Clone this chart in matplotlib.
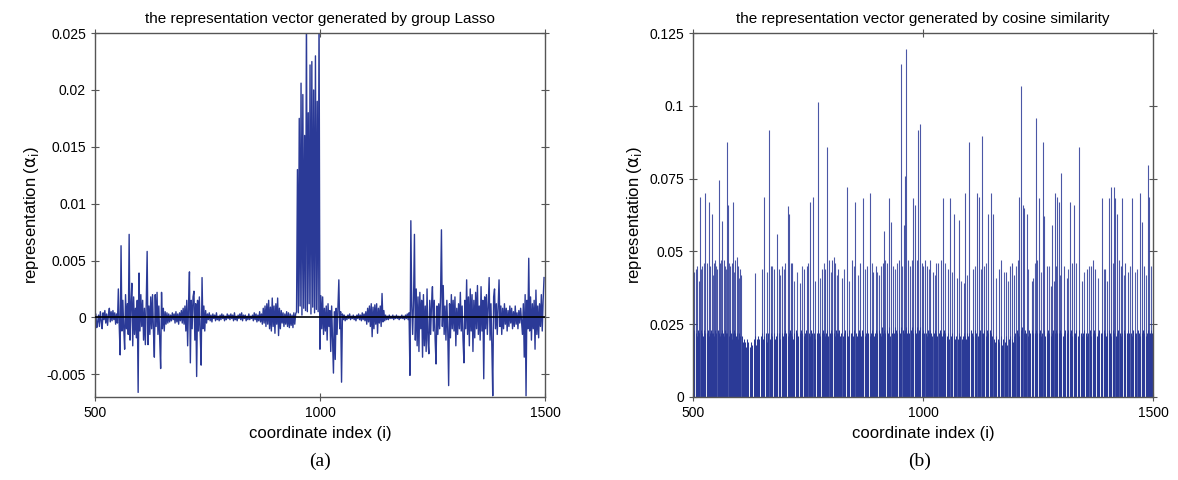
import numpy as np
import matplotlib
matplotlib.use('Agg')
import matplotlib.pyplot as plt

plt.rcParams['font.family'] = ['Liberation Sans', 'DejaVu Sans']

# ---- panel (a): group Lasso representation, sampled every 2 coordinates (units of 1e-4)
lasso_start, lasso_step = 500, 2
lasso_vals = [
    -6, 3, -9, -4, 2, -8, 5, -3, -10, 4, -2, 6, -5, 3, -7, 2, 8, -4, 5, -3, 6, -2, 4, -6, 3,
    -5, 25, -8, -33, 63, -12, 15, -10, -28, 20, -10, 12, -15, 73, -20, 10, 30, -25, 18, -15, 8, -18, 15, -66, 39,
    -12, 20, -8, 15, -20, 8, -24, 12, 58, -24, 10, -15, 18, -10, 20, -12, -35, 20, -8, 22, -15, 10, -20, -45, 22,
    -10, 8, -12, 5, -6, 4, -5, 3, -4, 2, -3, 4, -2, 3, -5, 5, -4, 3, -6, 4, -3, 6, -5, 8, -6,
    10, -12, 15, -25, 12, 40, -40, 15, -10, 18, 23, -20, 12, -52, 15, -12, 18, -15, -42, 35, -10, 10, -12, 6, -5,
    3, -2, 4, -3, 2, -4, 3, -1, 2, -3, 4, -2, 1, -3, 2, -2, 3, -1, 2, -3, 1, -2, 3, -1, 2,
    -2, 3, -1, 2, -3, 4, -2, 1, -3, 2, -1, 3, -2, 4, -3, 2, -1, 2, -3, 1, -2, 3, -2, 1, -1,
    2, -3, 4, -2, 3, -4, 2, -3, 5, -4, 3, -6, 8, -5, 10, -8, 12, -6, 15, -10, 9, -12, 17, -8, 10,
    -14, 12, -6, 17, -16, 8, -10, 6, -5, 4, -8, 3, -6, 5, -8, 4, -9, 3, -7, 2, -9, 4, -6, 3, 5,
    130, 4, 175, 10, 206, 2, 196, 8, 160, 6, 270, 5, 180, 12, 222, 3, 225, 9, 200, 4, 230, 7, 190, 5, 270,
    -28, 19, -10, 18, -15, 8, -12, 10, -20, 12, -8, 6, -30, 10, -20, -49, 5, -37, 8, -15, 10, 33, -10, 5, -57,
    3, -2, 2, -3, 1, -2, 2, -1, 3, -2, 1, -1, 2, -2, 1, -3, 2, -1, 3, -2, 2, -3, 4, -2, 3,
    -3, 5, -6, 8, -4, 10, -8, 12, -17, 9, -10, 11, -6, 12, -14, 8, -5, 10, -8, 21, -4, 6, -3, 2, -2,
    1, -2, 2, -1, 1, -1, 2, -2, 1, -1, 2, -1, 1, -2, 1, -1, 2, -1, 1, -2, 2, -1, 3, -2, 4,
    -51, 85, 10, -15, 15, 73, -20, 25, -25, 18, -30, 22, -10, 15, -35, 20, -25, 10, -30, 25, -20, -32, 15, -15, 12,
    27, -12, 15, -20, -41, 10, -15, 12, -10, 18, 77, -8, 28, -15, 10, -20, 15, -12, -60, 12, -18, 20, -10, 15, -12,
    18, -25, 8, -15, 12, -10, 22, -12, 10, -20, -40, 15, -10, 33, -15, 18, -25, 25, -12, 20, -30, 15, -18, 22, -10,
    28, -15, 10, -20, 27, -12, 15, -54, 18, -10, 20, -15, 10, 35, -20, 12, -25, -69, 18, 25, -10, 12, -15, 10, 33,
    -8, 10, -15, 8, -10, 12, -6, 8, -12, 6, -8, 10, -5, 8, -10, 5, -8, 10, -6, 4, -10, 6, -5, 8, -4,
    -15, 12, -35, 20, -69, 15, -10, 52, -12, 18, -20, 12, -10, 15, -28, 24, -15, 10, -18, 12, -8, 20, -12, 15, 35,
]

# ---- panel (b): cosine similarity, floor level every 2 coordinates (units of 1e-3)
cos_start, cos_step = 500, 2
cos_floor = [
    22, 23, 0, 22, 21, 23, 22, 22, 0, 23, 22, 21, 23, 22, 0, 22, 23, 21, 22, 0, 23, 22, 22, 21, 23,
    22, 0, 23, 22, 21, 22, 23, 0, 22, 21, 23, 22, 22, 0, 21, 23, 22, 20, 22, 0, 23, 22, 21, 22, 20,
    22, 21, 0, 21, 19, 20, 0, 19, 17, 20, 19, 0, 17, 19, 18, 0, 20, 21, 18, 0, 20, 21, 20, 0, 21,
    22, 20, 21, 0, 22, 19, 21, 22, 0, 20, 22, 21, 0, 22, 20, 21, 22, 0, 21, 22, 20, 0, 22, 21, 22,
    23, 22, 0, 21, 22, 23, 0, 22, 21, 20, 22, 0, 23, 22, 21, 0, 22, 23, 21, 22, 0, 21, 22, 23, 22,
    0, 22, 21, 23, 22, 0, 21, 22, 20, 0, 22, 23, 22, 21, 0, 22, 23, 22, 0, 21, 22, 23, 21, 0, 22,
    23, 22, 0, 22, 21, 23, 22, 0, 22, 23, 21, 22, 0, 21, 22, 23, 0, 22, 21, 22, 23, 0, 22, 22, 21,
    23, 0, 22, 21, 22, 23, 0, 22, 21, 23, 22, 0, 21, 22, 23, 22, 0, 21, 22, 23, 0, 22, 21, 22, 23,
    22, 0, 23, 22, 21, 24, 0, 22, 23, 22, 0, 23, 22, 24, 21, 0, 22, 23, 22, 0, 24, 23, 22, 0, 23,
    22, 24, 0, 23, 22, 23, 0, 24, 22, 23, 22, 0, 23, 24, 22, 0, 23, 22, 24, 0, 22, 23, 24, 0, 22,
    23, 22, 0, 22, 21, 23, 22, 0, 23, 22, 21, 0, 22, 23, 22, 21, 0, 22, 23, 22, 0, 21, 22, 23, 22,
    0, 21, 22, 20, 0, 21, 20, 22, 0, 21, 20, 21, 0, 20, 22, 21, 0, 20, 21, 22, 0, 21, 20, 22, 21,
    22, 0, 23, 22, 21, 0, 22, 23, 22, 0, 21, 22, 23, 0, 22, 22, 23, 0, 21, 22, 23, 22, 0, 23, 22,
    21, 0, 20, 19, 21, 0, 18, 20, 19, 0, 21, 18, 20, 0, 19, 21, 18, 0, 20, 19, 21, 0, 20, 19, 21,
    22, 0, 23, 22, 21, 0, 23, 22, 24, 0, 22, 23, 22, 0, 21, 23, 22, 0, 23, 22, 21, 0, 22, 23, 22,
    0, 22, 23, 21, 22, 0, 23, 22, 21, 0, 22, 23, 22, 0, 21, 22, 23, 0, 22, 21, 23, 22, 0, 22, 23,
    22, 0, 21, 22, 23, 0, 22, 21, 23, 0, 22, 23, 21, 0, 22, 22, 23, 0, 21, 22, 23, 0, 22, 21, 22,
    23, 0, 22, 21, 22, 0, 23, 22, 21, 0, 22, 23, 22, 0, 21, 22, 23, 0, 22, 21, 22, 0, 23, 22, 21,
    22, 0, 23, 22, 21, 0, 22, 23, 22, 0, 21, 22, 23, 0, 22, 21, 22, 0, 23, 22, 21, 0, 22, 23, 22,
    0, 22, 21, 23, 0, 22, 21, 22, 0, 23, 22, 21, 0, 22, 23, 22, 0, 21, 22, 23, 0, 22, 22, 23, 22,
]

# taller coordinates of panel (b)
spike_idx = [
    500, 503, 506, 509, 512, 515, 520, 527, 530, 534, 537, 541, 545, 548, 552, 556, 559, 563, 567, 570,
    574, 577, 581, 585, 588, 592, 595, 598, 602, 605, 635, 650, 654, 666, 669, 676, 682, 686, 694, 700,
    706, 708, 712, 715, 733, 742, 747, 751, 754, 760, 765, 771, 780, 788, 791, 796, 802, 806, 809, 815,
    823, 835, 845, 853, 863, 869, 878, 885, 892, 897, 904, 912, 915, 921, 927, 930, 935, 948, 952, 959,
    961, 964, 968, 971, 979, 983, 986, 990, 993, 997, 1001, 1004, 1009, 1015, 1021, 1028, 1033, 1038, 1044, 1055,
    1059, 1067, 1073, 1079, 1088, 1091, 1101, 1108, 1118, 1121, 1129, 1133, 1142, 1147, 1153, 1166, 1169, 1180, 1188, 1193,
    1198, 1206, 1209, 1213, 1217, 1220, 1225, 1236, 1239, 1246, 1247, 1252, 1261, 1263, 1269, 1278, 1280, 1284, 1287, 1290,
    1292, 1296, 1301, 1307, 1313, 1320, 1324, 1328, 1338, 1345, 1356, 1365, 1369, 1374, 1388, 1396, 1399, 1404, 1409, 1415,
    1417, 1421, 1425, 1430, 1433, 1439, 1445, 1454, 1471, 1475, 1480, 1488, 1491,
]
spike_val = [
    41, 43, 44, 45, 40, 68.7, 45, 70, 46, 67, 45, 63, 46, 47, 44, 74.7, 46, 60.5, 47, 45,
    87.6, 66, 45, 46, 67, 47, 48, 45, 44, 42, 42.7, 44, 68.7, 91.6, 45, 44, 56, 44, 45, 46,
    65.5, 63, 46, 46, 39, 44, 45, 46, 67, 68.7, 40, 101.5, 44, 44, 85.9, 47, 47, 48, 46, 44,
    41, 72, 47, 67, 46, 68.5, 45, 70, 43, 45, 42, 46, 57, 46, 68.5, 60, 45, 47, 114.4, 59,
    76, 119.5, 47, 45, 68.5, 66, 47, 91.6, 93.7, 46, 45, 47, 45, 47, 43, 46, 46, 47, 68.5, 44,
    68.5, 63, 41, 60.7, 39, 70, 87.6, 44, 70, 68.7, 89.5, 45, 63, 70, 63, 44, 47, 43, 45, 46,
    42, 47, 68.7, 107, 66, 65, 63, 40, 41, 96, 47, 68.5, 87.6, 62, 45, 38, 59, 40, 70, 45,
    68.7, 67, 77, 45, 41, 67, 46, 66, 85.9, 40, 44, 45, 47, 44, 68.5, 44, 40, 68.5, 72, 72,
    68.5, 63, 47, 45, 68.5, 46, 43, 68.5, 70, 60, 45, 79.6, 68.7,
]

# medium-height coordinates of panel (b), around 0.04-0.047
mid_idx = [
    517, 524, 543, 550, 561, 572, 579, 590, 600, 660, 672, 690, 697, 720, 725, 738, 775, 784, 799, 812,
    828, 840, 850, 858, 874, 889, 900, 908, 918, 940, 944, 955, 975, 1012, 1025, 1048, 1063, 1083, 1096, 1112,
    1125, 1137, 1159, 1175, 1185, 1202, 1229, 1243, 1256, 1273, 1298, 1316, 1333, 1350, 1361, 1380, 1393, 1412, 1437, 1450,
    1460, 1466, 1484, 1496,
]
mid_val = [
    44, 46, 42, 45, 47, 44, 46, 43, 41, 43, 45, 42, 44, 40, 43, 45, 41, 46, 43, 42,
    44, 40, 45, 42, 44, 46, 43, 45, 47, 44, 46, 45, 47, 44, 42, 46, 43, 40, 42, 45,
    44, 46, 41, 43, 40, 45, 44, 46, 43, 45, 42, 44, 46, 43, 45, 41, 44, 46, 42, 45,
    43, 44, 42, 45,
]

line_color = '#2b3a97'
axis_color = '#555555'

fig = plt.figure(figsize=(11.78, 4.80), dpi=100)
ax1 = fig.add_axes([0.0806, 0.173, 0.382, 0.758])
ax2 = fig.add_axes([0.5883, 0.173, 0.3905, 0.758])

# panel (a) - line plot
xa = lasso_start + lasso_step * np.arange(len(lasso_vals))
ya = np.array(lasso_vals) * 1e-4
ax1.plot(xa, ya, color=line_color, lw=1.0)
ax1.axhline(0, color='black', lw=1.2, zorder=3)
ax1.set_xlim(500, 1500)
ax1.set_ylim(-0.007, 0.025)
ax1.set_yticks([-0.005, 0, 0.005, 0.01, 0.015, 0.02, 0.025])
ax1.set_yticklabels(['-0.005', '0', '0.005', '0.01', '0.015', '0.02', '0.025'])
ax1.set_title('the representation vector generated by group Lasso', fontsize=11, pad=7)

# panel (b) - vertical bars from zero
xb = cos_start + cos_step * np.arange(len(cos_floor))
yb = np.array(cos_floor) * 1e-3
ax2.vlines(xb, 0, yb, color=line_color, lw=0.75)
ax2.vlines(mid_idx, 0, np.array(mid_val) * 1e-3, color=line_color, lw=0.8, alpha=0.8)
ax2.vlines(spike_idx, 0, np.array(spike_val) * 1e-3, color=line_color, lw=0.8, alpha=0.85)
ax2.set_xlim(500, 1500)
ax2.set_ylim(0, 0.125)
ax2.set_yticks([0, 0.025, 0.05, 0.075, 0.1, 0.125])
ax2.set_yticklabels(['0', '0.025', '0.05', '0.075', '0.1', '0.125'])
ax2.set_title('the representation vector generated by cosine similarity', fontsize=11, pad=7)

for ax in (ax1, ax2):
    ax.set_xticks([500, 1000, 1500])
    ax.tick_params(direction='inout', length=6, width=0.8, color=axis_color,
                   top=True, right=True, labelsize=10)
    for sp in ax.spines.values():
        sp.set_color(axis_color)
        sp.set_linewidth(1.0)
    ax.set_xlabel('coordinate index (i)', fontsize=12, labelpad=4)
    ax.set_ylabel(r'representation ($\mathrm{\alpha_i}$)', fontsize=12, labelpad=4)

fig.text(0.272, 0.03, '(a)', ha='center', fontsize=14, family='Liberation Serif')
fig.text(0.781, 0.03, '(b)', ha='center', fontsize=14, family='Liberation Serif')

fig.savefig('out.png', dpi=100)
